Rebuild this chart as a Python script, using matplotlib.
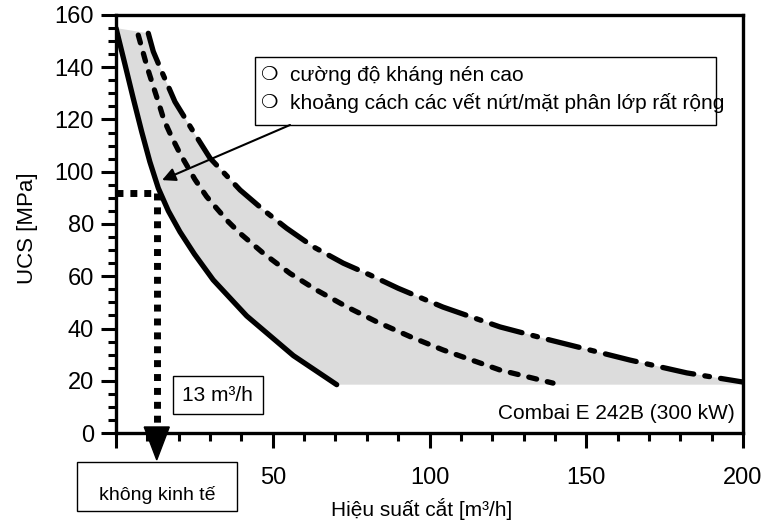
import numpy as np
import matplotlib
matplotlib.use("Agg")
from matplotlib import pyplot as plt
from matplotlib.patches import Rectangle, Polygon

plt.rcParams['font.family'] = ['Liberation Sans', 'DejaVu Sans']
plt.rcParams['lines.scale_dashes'] = False

# cutting rate [m3/h] vs UCS [MPa] for Combai E 242B
rate_lo = [0, 2.9, 5.5, 8.2, 10.8, 13.5, 16.7, 20.4, 25, 31.0, 41.7, 56.6, 70.4]
ucs_lo = [155, 140.9, 128.1, 115.3, 103.8, 93.7, 85.0, 77.0, 68.5, 58.6, 44.8, 29.6, 18.5]

rate_mid = [7.1, 10.0, 12.1, 13.8, 15.3, 17.8, 20.4, 25.2, 28.9, 32.1, 35.8, 39.6, 47.0,
            55.5, 64.0, 73.6, 83.1, 93.8, 104.3, 122.5, 139.4]
ucs_mid = [152.3, 139.8, 131.9, 125.6, 119.8, 113.2, 107.0, 97.0, 90.5, 86.0, 80.9, 76.4, 68.8,
           61.1, 54.7, 48.3, 42.6, 36.9, 31.8, 24.1, 19.1]

rate_hi = [10.3, 11.9, 14.6, 16.7, 18.8, 24.7, 27.0, 30.0, 39.6, 47.0, 54.4, 62.9, 72.5,
           81.0, 90.0, 104.3, 122.5, 138.4, 164.0, 182.1, 200]
ucs_hi = [153, 146, 138.3, 132.6, 126.8, 115.3, 110.9, 105.2, 93.0, 85.4, 78.4, 71.3, 65.0,
          60.5, 55.4, 48.2, 40.6, 35.6, 27.9, 23.0, 19.5]

ucs_floor = 18.5

# uneconomic limit
econ_rate = 13
econ_ucs = 92

notes = ['cường độ kháng nén cao',
         'khoảng cách các vết nứt/mặt phân lớp rất rộng']

xticks = [0, 50, 100, 150, 200]
xtick_labels = ['', '50', '100', '150', '200']  # 0 sits under the box below the axis
yticks = [0, 20, 40, 60, 80, 100, 120, 140, 160]

fig = plt.figure(figsize=(7.66, 5.23), dpi=100)
ax = fig.add_axes([116/766, 1-433/523, 627/766, 418/523])

# shaded band between lowest and highest curve
band_x = np.concatenate([rate_lo[:-1], [rate_lo[-1], rate_hi[-1]], rate_hi[::-1]])
band_y = np.concatenate([ucs_lo[:-1], [ucs_floor, ucs_floor], ucs_hi[::-1]])
ax.fill(band_x, band_y, color='#dcdcdc', lw=0, zorder=1)

lw = 3.8
ax.plot(rate_lo, ucs_lo, color='black', lw=lw, solid_capstyle='round',
        solid_joinstyle='round', zorder=3)
ax.plot(rate_mid, ucs_mid, color='black', lw=lw, linestyle=(0, (5.8, 7.9)),
        dash_capstyle='round', zorder=3)
ax.plot(rate_hi, ucs_hi, color='black', lw=lw, linestyle=(0, (22.8, 8.1, 3.4, 8.1)),
        dash_capstyle='round', zorder=3)

# dotted guide to the 13 m3/h limit
ax.plot([0, econ_rate], [econ_ucs, econ_ucs], color='black', lw=5,
        linestyle=(0, (5, 5)), dash_capstyle='butt', clip_on=False, zorder=4)
ax.plot([econ_rate, econ_rate], [econ_ucs, 2.3], color='black', lw=5,
        linestyle=(0, (5, 5)), dash_capstyle='butt', clip_on=False, zorder=4)
head = Polygon([[econ_rate - 4, 2.3], [econ_rate + 4, 2.3], [econ_rate, -10.3]],
               closed=True, color='black', clip_on=False, zorder=6)
ax.add_patch(head)

ax.text(32.5, 14.5, '13 m³/h', fontsize=15, ha='center', va='center', zorder=5,
        bbox=dict(boxstyle='square,pad=0.45', fc='white', ec='black', lw=1))

# box under the axis
ax.add_patch(Rectangle((econ_rate - 25.5, -30), 51, 18.9, fc='white', ec='black',
                       lw=1, clip_on=False, zorder=5))
ax.text(econ_rate, -23.7, 'không kinh tế', fontsize=14, ha='center', va='center',
        clip_on=False, zorder=6)

# notes box with arrow
ax.add_patch(Rectangle((44.3, 117.9), 147.1, 26.0, fc='white', ec='black', lw=1, zorder=5))
for i, s in enumerate(notes):
    yy = 137 - i * 10.7
    ax.text(48.8, yy, '❍', fontsize=14, ha='center', va='center', zorder=6)
    ax.text(55.5, yy, s, fontsize=15, ha='left', va='center', zorder=6, clip_on=False)
ax.annotate('', xy=(14.7, 96.8), xytext=(55.5, 117.9),
            arrowprops=dict(arrowstyle='-|>', color='black', lw=1.5,
                            mutation_scale=20, shrinkA=0, shrinkB=0), zorder=6)

ax.text(197.4, 7.3, 'Combai E 242B (300 kW)', fontsize=15, ha='right', va='center')

ax.set_xlim(0, 200)
ax.set_ylim(0, 160)
ax.set_xticks(xticks)
ax.set_xticklabels(xtick_labels)
ax.set_yticks(yticks)
ax.set_xticks(np.arange(0, 201, 10), minor=True)
ax.set_yticks(np.arange(0, 161, 5), minor=True)
ax.tick_params(which='major', direction='out', length=10.5, width=2.2, labelsize=17)
ax.tick_params(which='minor', direction='out', length=6, width=2.2)
ax.tick_params(axis='x', which='major', pad=14)
ax.tick_params(axis='y', which='major', pad=5.5)
for sp in ax.spines.values():
    sp.set_linewidth(2.4)

ax.set_xlabel('Hiệu suất cắt [m³/h]', fontsize=15)
ax.set_ylabel('UCS [MPa]', fontsize=16)
ax.xaxis.set_label_coords(0.488, -0.155)
ax.yaxis.set_label_coords(-0.125, 0.49)

fig.savefig('out.png', dpi=100)
